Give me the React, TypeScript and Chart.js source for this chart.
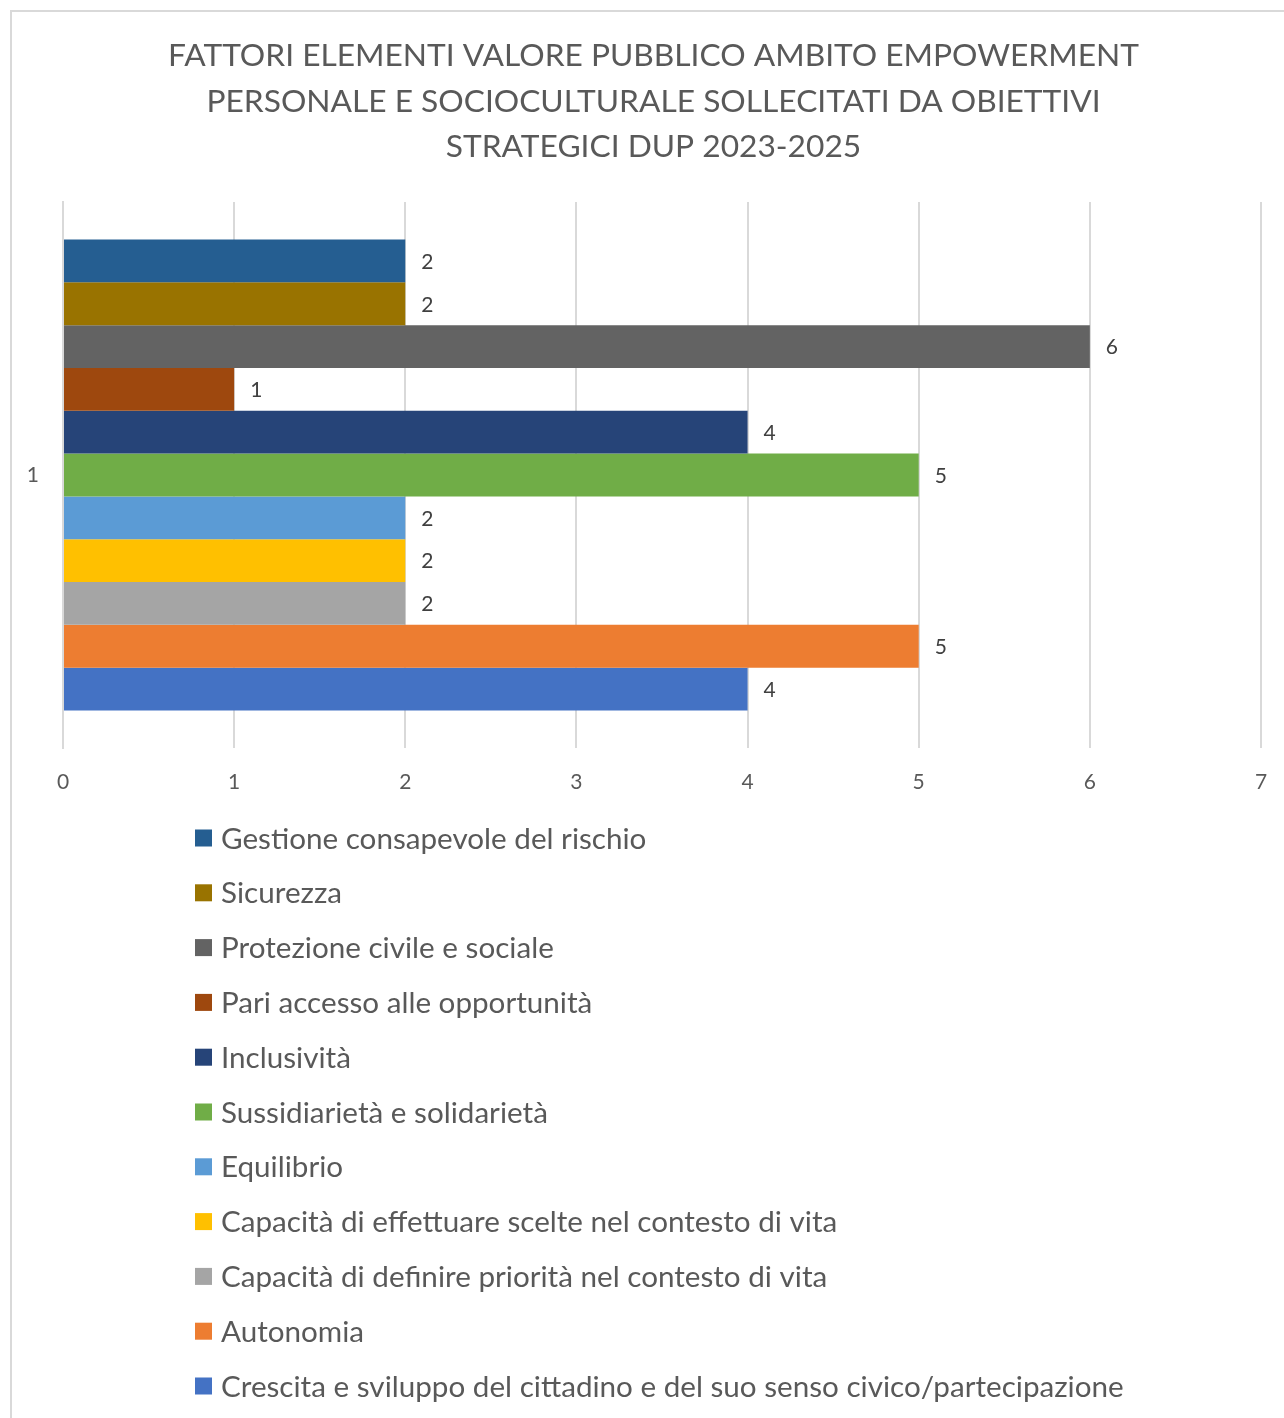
import { useEffect, useRef } from "react";
import { Chart, registerables } from "chart.js";

Chart.register(...registerables);

const TITLE_LINES = [
  "FATTORI ELEMENTI VALORE PUBBLICO AMBITO EMPOWERMENT",
  "PERSONALE E SOCIOCULTURALE SOLLECITATI DA OBIETTIVI",
  "STRATEGICI DUP 2023-2025",
];
const CATEGORIES = ["1"];
const SERIES_NAMES = [
  "Gestione consapevole del rischio",
  "Sicurezza",
  "Protezione civile e sociale",
  "Pari accesso alle opportunità",
  "Inclusività",
  "Sussidiarietà e solidarietà",
  "Equilibrio",
  "Capacità di effettuare scelte nel contesto di vita",
  "Capacità di definire priorità nel contesto di vita",
  "Autonomia",
  "Crescita e sviluppo del cittadino e del suo senso civico/partecipazione",
];
const SERIES_VALUES = [2, 2, 6, 1, 4, 5, 2, 2, 2, 5, 4];
const SERIES_COLORS = [
  "#255E91",
  "#997300",
  "#636363",
  "#9E480E",
  "#264478",
  "#70AD47",
  "#5B9BD5",
  "#FFC000",
  "#A5A5A5",
  "#ED7D31",
  "#4472C4",
];
const X_MIN = 0;
const X_MAX = 7;
const X_STEP = 1;

const FONT = "Lato, 'Open Sans', sans-serif";
const TEXT = "#595959";
const GRID = "#D9D9D9";

function fitSize(text: string, target: number): number {
  const c = document.createElement("canvas");
  const ctx = c.getContext("2d")!;
  ctx.font = `100px ${FONT}`;
  const w = ctx.measureText(text).width;
  return (100 * target) / w;
}

export default function App() {
  const ref = useRef<HTMLCanvasElement | null>(null);

  useEffect(() => {
    if (!ref.current) return;
    const titleSize = fitSize(TITLE_LINES[0], 971);
    const legendSize = fitSize(SERIES_NAMES[SERIES_NAMES.length - 1], 903);

    const background = {
      id: "bg",
      beforeDraw(chart: any) {
        const ctx = chart.ctx;
        ctx.save();
        ctx.fillStyle = "#ffffff";
        ctx.fillRect(0, 0, chart.width, chart.height);
        ctx.strokeStyle = GRID;
        ctx.lineWidth = 2;
        ctx.strokeRect(11, 11, chart.width + 20, chart.height + 20);
        ctx.restore();
      },
    };

    const titlePlugin = {
      id: "titleLines",
      afterDraw(chart: any) {
        const ctx = chart.ctx;
        ctx.save();
        ctx.font = `${titleSize}px ${FONT}`;
        ctx.fillStyle = TEXT;
        ctx.textAlign = "center";
        ctx.textBaseline = "middle";
        TITLE_LINES.forEach((line, i) => {
          ctx.fillText(line, 653.5, 56 + i * 45.5);
        });
        ctx.restore();
      },
    };

    const dataLabels = {
      id: "dataLabels",
      afterDatasetsDraw(chart: any) {
        const ctx = chart.ctx;
        ctx.save();
        ctx.font = `21px ${FONT}`;
        ctx.fillStyle = "#404040";
        ctx.textAlign = "left";
        ctx.textBaseline = "middle";
        chart.data.datasets.forEach((ds: any, i: number) => {
          const meta = chart.getDatasetMeta(i);
          meta.data.forEach((el: any, j: number) => {
            ctx.fillText(String(ds.data[j]), el.x + 16, el.y + 1);
          });
        });
        ctx.restore();
      },
    };

    const legendList = {
      id: "legendList",
      afterDraw(chart: any) {
        const ctx = chart.ctx;
        ctx.save();
        ctx.font = `${legendSize}px ${FONT}`;
        ctx.textAlign = "left";
        ctx.textBaseline = "middle";
        const startY = chart.scales.x.bottom + 30;
        chart.data.datasets.forEach((ds: any, i: number) => {
          const cy = startY + i * 54.8;
          ctx.fillStyle = ds.backgroundColor;
          ctx.fillRect(195, cy - 8.5, 17, 17);
          ctx.fillStyle = TEXT;
          ctx.fillText(ds.label, 221, cy + 1);
        });
        ctx.restore();
      },
    };

    const chart = new Chart(ref.current, {
      type: "bar",
      data: {
        labels: CATEGORIES,
        datasets: SERIES_NAMES.map((name, i) => ({
          label: name,
          data: [SERIES_VALUES[i]],
          backgroundColor: SERIES_COLORS[i],
          borderWidth: 0,
          categoryPercentage: 0.8626,
          barPercentage: 1,
        })),
      },
      options: {
        indexAxis: "y",
        responsive: false,
        animation: false,
        devicePixelRatio: 1,
        layout: { padding: { top: 202, left: 12, right: 23, bottom: 610 } },
        plugins: {
          legend: { display: false },
          tooltip: { enabled: false },
          title: { display: false },
        },
        scales: {
          x: {
            type: "linear",
            min: X_MIN,
            max: X_MAX,
            ticks: {
              stepSize: X_STEP,
              color: TEXT,
              font: { family: FONT, size: 21, lineHeight: 1.2 },
              padding: 0.4,
            },
            grid: {
              color: GRID,
              lineWidth: 2,
              drawTicks: true,
              tickLength: 21,
              tickColor: "rgba(0,0,0,0)",
            },
            border: { display: false },
            afterFit(scale: any) {
              scale.height = 60;
            },
          },
          y: {
            type: "category",
            ticks: {
              color: TEXT,
              font: { family: FONT, size: 21 },
              padding: 24,
            },
            grid: { display: false, drawTicks: false },
            border: { display: true, color: GRID, width: 2 },
            afterFit(scale: any) {
              scale.width = 51;
            },
          },
        },
      } as any,
      plugins: [background, titlePlugin, dataLabels, legendList],
    });
    return () => chart.destroy();
  }, []);

  return (
    <canvas
      ref={ref}
      width={1284}
      height={1418}
      style={{ position: "absolute", left: 0, top: 0, width: 1284, height: 1418 }}
    />
  );
}
